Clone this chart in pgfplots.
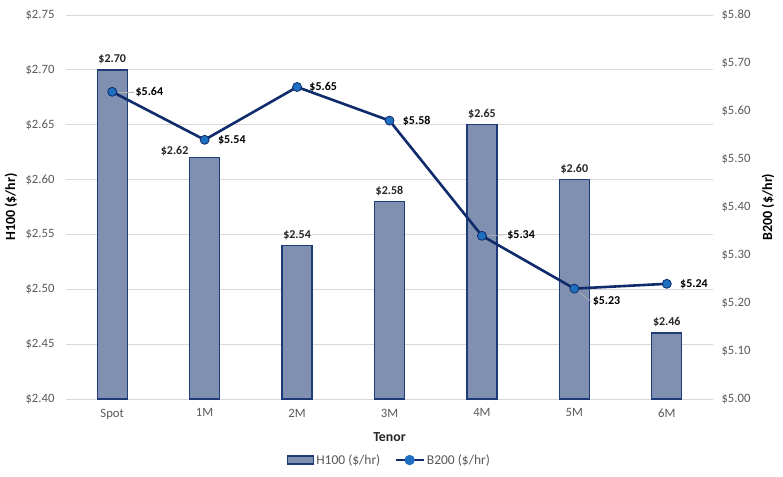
\documentclass[border=0pt]{standalone}
\usepackage{fontspec}
\setmainfont{Carlito}
\usepackage{pgfplots}
\pgfplotsset{compat=1.18}
\usepackage{pgfplotstable}
\definecolor{barfill}{HTML}{8090B0}
\definecolor{baredge}{HTML}{1F3A78}
\definecolor{linecol}{HTML}{0F2B6B}
\definecolor{markcol}{HTML}{1F6FC0}
\definecolor{ticktext}{HTML}{595959}
\definecolor{titletext}{HTML}{262626}

\pgfplotstableread{
x y dx dy
0 2.70 0 0
1 2.62 -30 -4
2 2.54 0 0
3 2.58 0 0
4 2.65 0 0
5 2.60 0 0
6 2.46 0 0
}\hdata

\pgfplotstableread{
x y dx dy lx ly
0 5.64 22 0 -16 0
1 5.54 12 0 0 0
2 5.65 11 0 0 0
3 5.58 12 0 0 0
4 5.34 24 1 -18 -1
5 5.23 17 -13 -12 9
6 5.24 12 0 0 0
}\bdata

\begin{document}
\begin{tikzpicture}
\pgfplotsset{
  every axis/.append style={
    scale only axis, width=647pt, height=384pt,
    xmin=-0.5, xmax=6.5,
    /pgf/number format/assume math mode=true,
    tick label style={font=\fontsize{12.7}{14}\selectfont, text=ticktext},
    tick style={draw=none},
  },
}
\begin{axis}[
  ymin=2.40, ymax=2.75,
  ytick={2.40,2.45,...,2.76},
  yticklabel={\$\pgfmathprintnumber[fixed,fixed zerofill,precision=2]{\tick}},
  yticklabel style={xshift=-8pt},
  xtick={0,...,6},
  xticklabels={Spot,1M,2M,3M,4M,5M,6M},
  xticklabel style={yshift=-2pt},
  axis x line*=bottom, axis y line*=left,
  x axis line style={draw=gray!30, -},
  y axis line style={draw=none},
  ymajorgrids, grid style={gray!30, line width=0.8pt},
  xlabel={Tenor},
  xlabel style={at={(axis description cs:0.5,-0.099)}, anchor=center, font=\fontsize{13.8}{15}\selectfont\bfseries, text=titletext},
  ylabel={H100 (\$/hr)},
  ylabel style={at={(axis description cs:-0.085,0.5)}, anchor=center, font=\fontsize{14}{15}\selectfont\bfseries, text=black},
  ybar, bar width=30pt,
  visualization depends on={\thisrow{dx} \as \bdx},
  visualization depends on={\thisrow{dy} \as \bdy},
  nodes near coords={\$\pgfmathprintnumber[fixed,fixed zerofill,precision=2]{\pgfplotspointmeta}},
  nodes near coords style={font=\fontsize{12}{14}\selectfont\bfseries, text=titletext, anchor=south, yshift=2pt+\bdy pt, xshift=\bdx pt},
]
\addplot[fill=barfill, draw=baredge, line width=1.4pt] table[x=x,y=y]{\hdata};
\end{axis}
\begin{axis}[
  ymin=5.00, ymax=5.80,
  ytick={5.00,5.10,...,5.81},
  yticklabel={\$\pgfmathprintnumber[fixed,fixed zerofill,precision=2]{\tick}},
  yticklabel style={xshift=5pt},
  axis y line*=right, axis x line=none,
  y axis line style={draw=none},
  ylabel={B200 (\$/hr)},
  ylabel style={at={(axis description cs:1.085,0.5)}, anchor=center, rotate=0, font=\fontsize{14}{15}\selectfont\bfseries, text=black},
  legend style={at={(axis description cs:0.5,-0.159)}, anchor=center, draw=none, legend columns=2,
    font=\fontsize{13.5}{15}\selectfont, text=ticktext, /tikz/every even column/.append style={column sep=12pt}},
  legend image code/.code={\draw[#1] (0pt,0pt) -- (28pt,0pt); \fill[markcol] (14pt,0pt) circle (3.8pt);},
]
\addlegendimage{legend image code/.code={\draw[fill=barfill, draw=baredge, line width=1.2pt] (0pt,-4pt) rectangle (26pt,4pt);}}
\addlegendentry{H100 (\$/hr)}
\addplot[linecol, line width=2.6pt, mark=*, mark size=4.5pt,
  mark options={fill=markcol, draw=linecol, line width=0.8pt},
  visualization depends on={\thisrow{dx} \as \dx},
  visualization depends on={\thisrow{dy} \as \dy},
  visualization depends on={\thisrow{lx} \as \lx},
  visualization depends on={\thisrow{ly} \as \ly},
  nodes near coords={\$\pgfmathprintnumber[fixed,fixed zerofill,precision=2]{\pgfplotspointmeta}},
  nodes near coords style={font=\fontsize{12}{14}\selectfont\bfseries, text=black, anchor=west, inner sep=1pt, xshift=\dx pt, yshift=\dy pt,
    append after command={(\tikzlastnode.west) edge[draw=gray!60, line width=0.6pt] ++(\lx pt,\ly pt)}},
] table[x=x,y=y]{\bdata};
\addlegendentry{B200 (\$/hr)}
\end{axis}
\pgfresetboundingbox
\path[use as bounding box] ([shift={(-66pt,-77pt)}]current axis.south west) rectangle ([shift={(70pt,15pt)}]current axis.north east);
\end{tikzpicture}
\end{document}
